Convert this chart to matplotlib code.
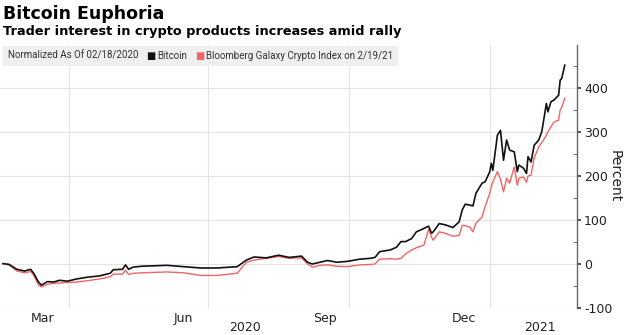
import matplotlib

matplotlib.use("Agg")
import matplotlib.pyplot as plt
import matplotlib.transforms as mtransforms
import numpy as np
import pandas as pd
from matplotlib.offsetbox import AnchoredOffsetbox, HPacker, TextArea

dates = [
    "2020-02-18", "2020-02-22", "2020-02-27", "2020-03-03", "2020-03-07", "2020-03-09",
    "2020-03-12", "2020-03-14", "2020-03-18", "2020-03-22", "2020-03-26", "2020-03-31",
    "2020-04-06", "2020-04-13", "2020-04-21", "2020-04-28", "2020-04-30", "2020-05-06",
    "2020-05-08", "2020-05-10", "2020-05-13", "2020-05-19", "2020-05-27", "2020-06-04",
    "2020-06-15", "2020-06-26", "2020-07-07", "2020-07-20", "2020-07-26", "2020-07-31",
    "2020-08-08", "2020-08-16", "2020-08-23", "2020-08-31", "2020-09-04", "2020-09-07",
    "2020-09-12", "2020-09-17", "2020-09-23", "2020-09-30", "2020-10-08", "2020-10-15",
    "2020-10-18", "2020-10-21", "2020-10-28", "2020-11-01", "2020-11-04", "2020-11-07",
    "2020-11-11", "2020-11-14", "2020-11-19", "2020-11-22", "2020-11-24", "2020-11-25",
    "2020-11-29", "2020-12-03", "2020-12-08", "2020-12-12", "2020-12-14", "2020-12-16",
    "2020-12-19", "2020-12-21", "2020-12-23", "2020-12-27", "2020-12-29", "2021-01-01",
    "2021-01-02", "2021-01-03", "2021-01-06", "2021-01-08", "2021-01-10", "2021-01-12",
    "2021-01-14", "2021-01-17", "2021-01-19", "2021-01-20", "2021-01-23", "2021-01-25",
    "2021-01-26", "2021-01-28", "2021-01-30", "2021-02-02", "2021-02-04", "2021-02-07",
    "2021-02-08", "2021-02-10", "2021-02-12", "2021-02-15", "2021-02-16", "2021-02-17",
    "2021-02-19",
]
bitcoin = [
    0, -2, -13, -17, -13, -22,
    -41, -49, -41, -42, -38, -40,
    -35, -31, -28, -22, -14, -13,
    -3, -13, -8, -6, -5, -4,
    -7, -10, -10, -7, 8, 15,
    13, 19, 14, 17, 3, -1,
    3, 7, 3, 5, 10, 12,
    14, 27, 31, 37, 50, 50,
    57, 72, 80, 85, 69, 72,
    91, 88, 82, 95, 122, 135,
    133, 131, 160, 183, 186, 209,
    228, 212, 292, 303, 235, 281,
    258, 254, 209, 224, 217, 205,
    243, 231, 269, 281, 300, 364,
    345, 368, 372, 383, 417, 421,
    451,
]
galaxy = [
    0, -3, -17, -21, -18, -26,
    -48, -53, -47, -45, -44, -43,
    -42, -39, -35, -30, -24, -24,
    -15, -25, -22, -21, -20, -19,
    -21, -27, -27, -22, 3, 8,
    12, 16, 12, 13, -1, -8,
    -4, -3, -6, -7, -3, -2,
    -1, 10, 11, 10, 12, 22,
    31, 36, 42, 78, 60, 53,
    72, 69, 62, 64, 87, 86,
    83, 72, 92, 106, 130, 160,
    175, 186, 209, 192, 163, 194,
    183, 220, 178, 194, 197, 185,
    199, 201, 240, 265, 275, 292,
    300, 311, 322, 326, 349, 355,
    376,
]
month_labels = ["Mar", "Jun", "Sep", "Dec"]
month_label_dates = ["2020-03-15", "2020-06-15", "2020-09-15", "2020-12-15"]
grid_dates = ["2020-04-01", "2020-07-01", "2020-10-01", "2021-01-01"]
years = ["2020", "2021"]
year_label_dates = ["2020-07-25", "2021-02-03"]

BLACK = "#111111"
RED = "#f26464"
GRID = "#e4e4e4"

x = pd.to_datetime(dates)

fig = plt.figure(figsize=(6.35, 3.35), dpi=100)
ax = fig.add_axes([0.0, 1 - 308 / 335, 577 / 635, (308 - 45) / 335])

ax.plot(x, galaxy, color=RED, lw=1.0)
ax.plot(x, bitcoin, color=BLACK, lw=1.2)

ax.set_xlim(pd.Timestamp("2020-02-16"), pd.Timestamp("2021-02-27"))
ax.set_ylim(-101, 497)

ax.yaxis.tick_right()
ax.yaxis.set_label_position("right")
ax.set_yticks([-100, 0, 100, 200, 300, 400])
ax.set_yticklabels(["-100", "0", "100", "200", "300", "400"])
ax.set_yticks(np.arange(-50, 500, 100), minor=True)
ax.tick_params(axis="y", which="major", direction="out", length=3, width=1.5,
               color="#555555", labelsize=9, labelcolor="#222222", pad=2)
ax.tick_params(axis="y", which="minor", direction="in", length=3, width=0.8, color="#777777")
ax.set_ylabel("Percent", rotation=-90, labelpad=7, fontsize=10, color="#222222")

ax.set_xticks(pd.to_datetime(month_label_dates))
ax.set_xticklabels(month_labels)
ax.set_xticks(pd.to_datetime(grid_dates), minor=True)
ax.tick_params(axis="x", which="both", length=0, labelsize=9, labelcolor="#222222", pad=3)

year_trans = mtransforms.blended_transform_factory(ax.transData, fig.transFigure)
for xd, label in zip(pd.to_datetime(year_label_dates), years):
    ax.text(xd, 1 / 335, label, transform=year_trans, ha="center", va="bottom",
            fontsize=9, color="#222222")

ax.grid(axis="y", which="major", color=GRID, lw=0.8)
ax.grid(axis="x", which="minor", color=GRID, lw=0.8)
ax.set_axisbelow(True)

for side in ["top", "left", "bottom"]:
    ax.spines[side].set_visible(False)
ax.spines["right"].set_color("#666666")
ax.spines["right"].set_linewidth(1.0)

fig.text(3 / 635, 1 - 5 / 335, "Bitcoin Euphoria", fontsize=12.5, fontweight="bold", va="top", ha="left")
fig.text(3 / 635, 1 - 25 / 335, "Trader interest in crypto products increases amid rally",
         fontsize=9.3, fontweight="bold", va="top", ha="left")

props = dict(size=7, color="#333333", family="Roboto")
legend_parts = HPacker(children=[
    TextArea("Normalized As Of 02/18/2020", textprops=props),
    HPacker(children=[TextArea("\u25a0", textprops=dict(size=7, color=BLACK)),
                      TextArea("Bitcoin", textprops=props)], sep=1, align="center"),
    HPacker(children=[TextArea("\u25a0", textprops=dict(size=7, color=RED)),
                      TextArea("Bloomberg Galaxy Crypto Index on 2/19/21", textprops=props)],
            sep=1, align="center"),
], sep=6, align="center")
legend_box = AnchoredOffsetbox(loc="upper left", child=legend_parts, pad=0.35, borderpad=0,
                               frameon=True, bbox_to_anchor=(3 / 635, 1 - 46 / 335),
                               bbox_transform=fig.transFigure)
legend_box.patch.set_facecolor("#efefef")
legend_box.patch.set_edgecolor("none")
fig.add_artist(legend_box)

fig.savefig("out.png", dpi=100)
